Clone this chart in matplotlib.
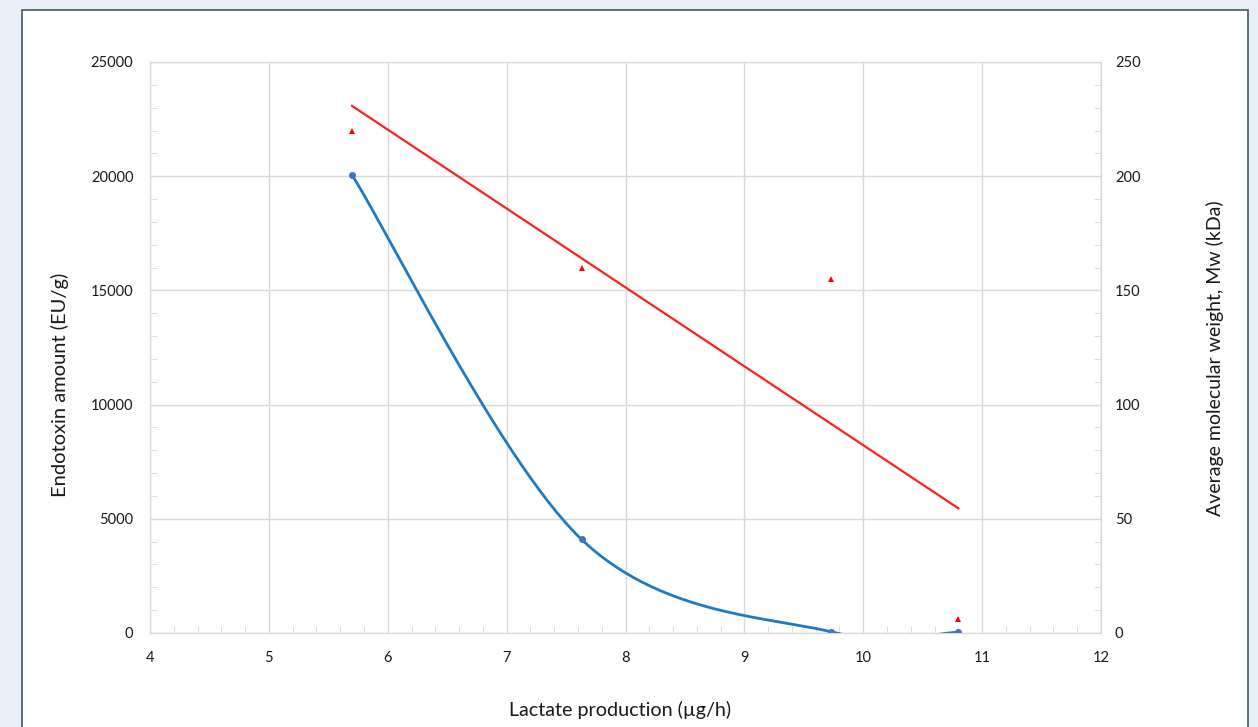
import numpy as np
import matplotlib
matplotlib.use("Agg")
from matplotlib import pyplot as plt
from matplotlib.patches import Rectangle
from matplotlib.ticker import MultipleLocator

plt.rcParams['font.family'] = ['Lato', 'DejaVu Sans']

# data
lactate = [5.70, 7.63, 9.73, 10.80]
endotoxin = [20050, 4100, 50, 30]
mw = [220, 160, 155, 6]

W, H = 1258, 727


def excel_smooth(xs, ys, n=60):
    # bezier smoothing like Excel's "smoothed line"
    pts = np.column_stack([xs, ys]).astype(float)
    ext = np.vstack([pts[0], pts, pts[-1]])
    out = []
    t = np.linspace(0, 1, n)[:, None]
    for i in range(len(pts) - 1):
        p0, p3 = ext[i + 1], ext[i + 2]
        c1 = p0 + (ext[i + 2] - ext[i]) / 6
        c2 = p3 - (ext[i + 3] - ext[i + 1]) / 6
        seg = ((1 - t) ** 3) * p0 + 3 * ((1 - t) ** 2) * t * c1 + 3 * (1 - t) * t ** 2 * c2 + t ** 3 * p3
        out.append(seg)
    out = np.vstack(out)
    return out[:, 0], out[:, 1]


fig = plt.figure(figsize=(W / 100, H / 100), dpi=100)
fig.patch.set_facecolor('#eaeef8')
fig.patches.append(Rectangle((22 / W, -0.01), 1226 / W, 1.01 - 10 / H, transform=fig.transFigure,
                             facecolor='white', edgecolor='#3b5b5b', linewidth=1.2, zorder=-10))

ax = fig.add_axes([150 / W, 1 - 633 / H, 951 / W, 571 / H])
ax.set_facecolor('none')
ax2 = ax.twinx()

grid_c = '#d9d9d9'
ax.set_xlim(4, 12)
ax.set_ylim(0, 25000)
ax2.set_ylim(0, 250)
ax.xaxis.set_major_locator(MultipleLocator(1))
ax.xaxis.set_minor_locator(MultipleLocator(0.2))
ax.yaxis.set_major_locator(MultipleLocator(5000))
ax.yaxis.set_minor_locator(MultipleLocator(1000))
ax2.yaxis.set_major_locator(MultipleLocator(50))
ax2.yaxis.set_minor_locator(MultipleLocator(10))
ax.grid(True, which='major', color=grid_c, linewidth=1)
ax.set_axisbelow(True)

for a in (ax, ax2):
    for s in a.spines.values():
        s.set_color(grid_c)
    a.tick_params(which='major', length=0, labelsize=10.5, labelcolor='#1a1a1a')
    a.tick_params(which='minor', direction='in', length=5, color=grid_c)
ax.tick_params(axis='x', which='major', pad=13)
ax.tick_params(axis='y', which='major', pad=12)
ax2.tick_params(axis='y', which='major', pad=10)

sx, sy = excel_smooth(lactate, endotoxin)
ax.plot(sx, sy, color='#1f7ac3', linewidth=2, zorder=3)
ax.plot(lactate, endotoxin, 'o', color='#4472c4', markersize=4, zorder=4)

coef = np.polyfit(lactate, mw, 1)
tx = np.array([lactate[0], lactate[-1]])
ax2.plot(tx, np.polyval(coef, tx), color='#ff2020', linewidth=1.6, zorder=3)
ax2.plot(lactate, mw, '^', color='#ff0000', markersize=4.5, markeredgewidth=0, zorder=4)

fig.text(620 / W, 1 - 710 / H, 'Lactate production (µg/h)', fontsize=14.2,
         ha='center', va='center', color='#1a1a1a')
fig.text(60 / W, 1 - 385 / H, 'Endotoxin amount (EU/g)', fontsize=14.5, rotation=90,
         ha='center', va='center', color='#1a1a1a')
fig.text(1215 / W, 1 - 358 / H, 'Average molecular weight, Mw (kDa)', fontsize=14, rotation=90,
         ha='center', va='center', color='#1a1a1a')

fig.savefig('out.png', dpi=100, facecolor=fig.get_facecolor())
